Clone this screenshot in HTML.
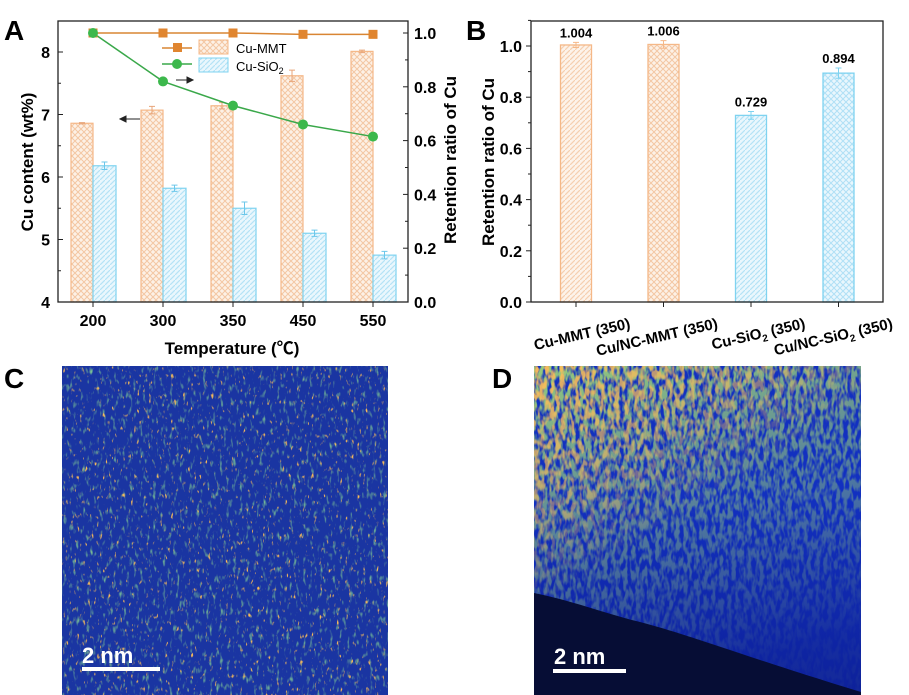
<!DOCTYPE html>
<html><head><meta charset="utf-8"><style>
body{margin:0;background:#fff;width:909px;height:695px;overflow:hidden;font-family:"Liberation Sans","Noto Sans CJK SC",sans-serif}
svg{position:absolute;left:0;top:0}
text{font-family:"Liberation Sans","Noto Sans CJK SC",sans-serif}
</style></head><body>
<svg id="fig" width="909" height="695" viewBox="0 0 909 695">
<defs>
<pattern id="cross" width="6" height="6" patternUnits="userSpaceOnUse"><rect width="6" height="6" fill="#fdf1e6"/><path d="M0 0L6 6M6 0L0 6" stroke="#f3c7a3" stroke-width="1"/></pattern>
<pattern id="diagO" width="5" height="5" patternUnits="userSpaceOnUse"><rect width="5" height="5" fill="#fdf3ea"/><path d="M-1 6L6 -1" stroke="#f5cfb0" stroke-width="1.2"/></pattern>
<pattern id="diagB" width="5" height="5" patternUnits="userSpaceOnUse"><rect width="5" height="5" fill="#eaf7fd"/><path d="M-1 6L6 -1" stroke="#b5e3f6" stroke-width="1.2"/></pattern>
<pattern id="crossB" width="6" height="6" patternUnits="userSpaceOnUse"><rect width="6" height="6" fill="#e9f7fd"/><path d="M0 0L6 6M6 0L0 6" stroke="#b0e0f5" stroke-width="1"/></pattern>
<filter id="greenN" x="0" y="0" width="100%" height="100%"><feTurbulence type="fractalNoise" baseFrequency="0.3 0.12" numOctaves="2" seed="3"/><feColorMatrix type="matrix" values="0 0 0 0 0.2  0 0 0 0 0.55  0 0 0 0 0.3  0 0 0 3 -1.75"/></filter>
<filter id="orangeN" x="0" y="0" width="100%" height="100%"><feTurbulence type="fractalNoise" baseFrequency="0.35 0.15" numOctaves="2" seed="11"/><feColorMatrix type="matrix" values="0 0 0 0 0.95  0 0 0 0 0.5  0 0 0 0 0.1  0 0 0 6 -4.0"/></filter>
<filter id="greenD" x="0" y="0" width="100%" height="100%"><feTurbulence type="fractalNoise" baseFrequency="0.25 0.1" numOctaves="2" seed="5"/><feColorMatrix type="matrix" values="0 0 0 0 0.3  0 0 0 0 0.6  0 0 0 0 0.2  0 0 0 4 -1.5"/></filter>
<filter id="orangeD" x="0" y="0" width="100%" height="100%"><feTurbulence type="fractalNoise" baseFrequency="0.2 0.1" numOctaves="2" seed="9"/><feColorMatrix type="matrix" values="0 0 0 0 0.95  0 0 0 0 0.5  0 0 0 0 0.1  0 0 0 5 -2.2"/></filter>
<linearGradient id="fadeD" x1="0" y1="0" x2="0.3" y2="1"><stop offset="0" stop-color="#fff"/><stop offset="0.5" stop-color="#fff" stop-opacity="0.55"/><stop offset="1" stop-color="#fff" stop-opacity="0.05"/></linearGradient>
<linearGradient id="fadeO" x1="0" y1="0" x2="0.6" y2="1"><stop offset="0" stop-color="#fff"/><stop offset="0.35" stop-color="#fff" stop-opacity="0.5"/><stop offset="0.55" stop-color="#fff" stop-opacity="0"/></linearGradient>
<linearGradient id="darkBlue" x1="0" y1="0" x2="0" y2="1"><stop offset="0.4" stop-color="#0a1680" stop-opacity="0"/><stop offset="1" stop-color="#0a1680" stop-opacity="0.6"/></linearGradient>
<mask id="maskD"><rect x="534" y="366" width="327" height="329" fill="url(#fadeD)"/></mask>
<mask id="maskO"><rect x="534" y="366" width="327" height="329" fill="url(#fadeO)"/></mask>
</defs>
<g id="panelA"></g>
<g id="panelB"></g>

<g>
<text x="4" y="388" font-size="28" font-weight="bold">C</text>
<rect x="62" y="366" width="326" height="329" fill="#1a35a2"/>
<rect x="62" y="366" width="326" height="329" filter="url(#greenN)"/>
<rect x="62" y="366" width="326" height="329" filter="url(#orangeN)"/>
<rect x="82" y="667" width="78" height="4" fill="#fff"/>
<text x="82" y="663" font-size="22" font-weight="bold" fill="#fff">2 nm</text>
</g>
<g>
<text x="492" y="388" font-size="28" font-weight="bold">D</text>
<rect x="534" y="366" width="327" height="329" fill="#1230c0"/>
<rect x="534" y="366" width="327" height="329" fill="url(#darkBlue)"/>
<rect x="534" y="366" width="327" height="329" filter="url(#greenD)" mask="url(#maskD)"/>
<rect x="534" y="366" width="327" height="329" filter="url(#orangeD)" mask="url(#maskO)"/>
<path d="M534 593 C570 600 610 615 640 622 C690 635 740 655 861 692 L861 695 L534 695 Z" fill="#060d35"/>
<rect x="553" y="669" width="73" height="4" fill="#fff"/>
<text x="554" y="664" font-size="22" font-weight="bold" fill="#fff">2 nm</text>
</g>
</svg>
<script>
// Panel A data
const tempsA = ['200','300','350','450','550'];
const mmtContent = [6.86, 7.07, 7.14, 7.62, 8.01];
const mmtErr = [0.01, 0.06, 0.05, 0.09, 0.02];
const sioContent = [6.18, 5.82, 5.50, 5.10, 4.75];
const sioErr = [0.06, 0.05, 0.10, 0.05, 0.06];
const mmtRet = [1.0, 1.0, 1.0, 0.995, 0.995];
const sioRet = [1.0, 0.82, 0.73, 0.66, 0.615];
const leftTicks = [4,5,6,7,8];
const rightTicks = [0.0,0.2,0.4,0.6,0.8,1.0];
// Panel B data
const catsB = ['Cu-MMT (350)','Cu/NC-MMT (350)','Cu-SiO2 (350)','Cu/NC-SiO2 (350)'];
const retB = [1.004, 1.006, 0.729, 0.894];
const retBErr = [0.01, 0.015, 0.015, 0.02];
const labelsB = ['1.004','1.006','0.729','0.894'];
const ticksB = [0.0,0.2,0.4,0.6,0.8,1.0];

const NS='http://www.w3.org/2000/svg';
function mk(parent,tag,attrs,txt){const e=document.createElementNS(NS,tag);for(const k in attrs)e.setAttribute(k,attrs[k]);if(txt!==undefined)e.textContent=txt;parent.appendChild(e);return e;}

// ---- Panel A ----
const A=document.getElementById('panelA');
const ax0=58, ax1=408, ay0=302, ay1=21;
const yL=v=>302-(v-4)*62.5;
const yR=v=>302-v*269;
const xA=i=>93+i*70;
let e;
e=mk(A,'text',{x:4,y:40,'font-size':28,'font-weight':'bold'},'A');


tempsA.forEach((t,i)=>{
  const x=xA(i);
  e=mk(A,'rect',{x:x-22,y:yL(mmtContent[i]),width:22,height:ay0-yL(mmtContent[i]),fill:'url(#cross)',stroke:'#f5b888','stroke-width':1.2});
  
  
  e=mk(A,'rect',{x:x,y:yL(sioContent[i]),width:23,height:ay0-yL(sioContent[i]),fill:'url(#diagB)',stroke:'#7fd3f0','stroke-width':1.2});
  
  
  [[x-11,mmtContent[i],mmtErr[i],'#e8a57a'],[x+11.5,sioContent[i],sioErr[i],'#6cc7ea']].forEach(([cx,v,er,c])=>{
    const g=mk(A,'path',{d:`M${cx} ${yL(v+er)}V${yL(v-er)}M${cx-3} ${yL(v+er)}H${cx+3}M${cx-3} ${yL(v-er)}H${cx+3}`,stroke:c,fill:'none','stroke-width':1});
    
    
  });
});
e=mk(A,'polyline',{points:mmtRet.map((v,i)=>xA(i)+','+yR(v)).join(' '),fill:'none',stroke:'#d98533','stroke-width':1.5});


e=mk(A,'polyline',{points:sioRet.map((v,i)=>xA(i)+','+yR(v)).join(' '),fill:'none',stroke:'#3aa84a','stroke-width':1.5});


mmtRet.forEach((v,i)=>{e=mk(A,'rect',{x:xA(i)-4.5,y:yR(v)-4.5,width:9,height:9,fill:'#e0852f'});
  
  });
sioRet.forEach((v,i)=>{e=mk(A,'circle',{cx:xA(i),cy:yR(v),r:5,fill:'#3cb84c'});
  
  });
e=mk(A,'rect',{x:ax0,y:ay1,width:ax1-ax0,height:ay0-ay1,fill:'none',stroke:'#222','stroke-width':1.3});


leftTicks.forEach(v=>{mk(A,'line',{x1:ax0,x2:ax0+5,y1:yL(v),y2:yL(v),stroke:'#222'});
  if(v<8) mk(A,'line',{x1:ax0,x2:ax0+3,y1:yL(v+0.5),y2:yL(v+0.5),stroke:'#222'});
  e=mk(A,'text',{x:ax0-8,y:yL(v)+6,'font-size':16,'font-weight':'bold','text-anchor':'end'},String(v));
  
  });
rightTicks.forEach(v=>{mk(A,'line',{x1:ax1,x2:ax1-5,y1:yR(v),y2:yR(v),stroke:'#222'});
  if(v<1) mk(A,'line',{x1:ax1,x2:ax1-3,y1:yR(v+0.1),y2:yR(v+0.1),stroke:'#222'});
  e=mk(A,'text',{x:ax1+6,y:yR(v)+6,'font-size':16,'font-weight':'bold'},v.toFixed(1));
  
  });
tempsA.forEach((t,i)=>{mk(A,'line',{x1:xA(i),x2:xA(i),y1:ay0,y2:ay0+5,stroke:'#222'});
  e=mk(A,'text',{x:xA(i),y:326,'font-size':16,'font-weight':'bold','text-anchor':'middle'},t);
  
  });
e=mk(A,'text',{x:232,y:354,'font-size':17,'font-weight':'bold','text-anchor':'middle'},'Temperature (℃)');


e=mk(A,'text',{x:0,y:0,'font-size':17,'font-weight':'bold','text-anchor':'middle',transform:'translate(33,162) rotate(-90)'},'Cu content (wt%)');


e=mk(A,'text',{x:0,y:0,'font-size':17,'font-weight':'bold','text-anchor':'middle',transform:'translate(456,160) rotate(-90)'},'Retention ratio of Cu');


mk(A,'path',{d:'M140 119H120M120 119l6 -3v6z',stroke:'#222',fill:'#222'});
mk(A,'path',{d:'M176 80H193M193 80l-6 -3v6z',stroke:'#222',fill:'#222'});
const lg=mk(A,'g',{});


mk(lg,'line',{x1:162,x2:192,y1:48,y2:48,stroke:'#d98533','stroke-width':1.5});
mk(lg,'rect',{x:173,y:43,width:9,height:9,fill:'#e0852f'});
mk(lg,'rect',{x:199,y:40,width:29,height:14,fill:'url(#cross)',stroke:'#f5b888'});
mk(lg,'text',{x:236,y:53,'font-size':13},'Cu-MMT');
mk(lg,'line',{x1:162,x2:192,y1:64,y2:64,stroke:'#3aa84a','stroke-width':1.5});
mk(lg,'circle',{cx:177,cy:64,r:5,fill:'#3cb84c'});
mk(lg,'rect',{x:199,y:58,width:29,height:14,fill:'url(#diagB)',stroke:'#7fd3f0'});
const tt=mk(lg,'text',{x:236,y:71,'font-size':13},'Cu-SiO');
mk(tt,'tspan',{'font-size':9,dy:3},'2');

// ---- Panel B ----
const B=document.getElementById('panelB');
const bx0=531,bx1=883,by0=302,by1=21;
const yB=v=>302-v*256;
const xB=i=>576+i*87.5;
const fillsB=['url(#diagO)','url(#cross)','url(#diagB)','url(#crossB)'];
const strokesB=['#f5b888','#f5b888','#7fd3f0','#7fd3f0'];
e=mk(B,'text',{x:466,y:40,'font-size':28,'font-weight':'bold'},'B');


catsB.forEach((c,i)=>{
  const x=xB(i);
  e=mk(B,'rect',{x:x-15.5,y:yB(retB[i]),width:31,height:by0-yB(retB[i]),fill:fillsB[i],stroke:strokesB[i],'stroke-width':1.3});
  
  
  const er=retBErr[i],v=retB[i];
  e=mk(B,'path',{d:`M${x} ${yB(v+er)}V${yB(v-er)}M${x-3} ${yB(v+er)}H${x+3}M${x-3} ${yB(v-er)}H${x+3}`,stroke:strokesB[i],fill:'none'});
  
  
  e=mk(B,'text',{x:x,y:yB(v+er)-5,'font-size':13,'font-weight':'bold','text-anchor':'middle'},labelsB[i]);
  
  
  mk(B,'line',{x1:x,x2:x,y1:by0,y2:by0+5,stroke:'#222'});
  const parts=c.split('SiO2');
  const lt=mk(B,'text',{'font-size':15,'font-weight':'bold','text-anchor':'end',transform:`translate(${x+55},${by0+26}) rotate(-13)`});
  
  
  if(parts.length>1){mk(lt,'tspan',{},parts[0]+'SiO');mk(lt,'tspan',{'font-size':10,dy:4},'2');mk(lt,'tspan',{dy:-4},parts[1]);}
  else lt.textContent=c;
});
e=mk(B,'rect',{x:bx0,y:by1,width:bx1-bx0,height:by0-by1,fill:'none',stroke:'#222','stroke-width':1.3});


ticksB.forEach(v=>{mk(B,'line',{x1:bx0,x2:bx0-5,y1:yB(v),y2:yB(v),stroke:'#222'});
  mk(B,'line',{x1:bx0,x2:bx0-3,y1:yB(v+0.1),y2:yB(v+0.1),stroke:'#222'});
  e=mk(B,'text',{x:bx0-9,y:yB(v)+6,'font-size':16,'font-weight':'bold','text-anchor':'end'},v.toFixed(1));
  
  });
e=mk(B,'text',{'font-size':17,'font-weight':'bold','text-anchor':'middle',transform:'translate(494,162) rotate(-90)'},'Retention ratio of Cu');


</script>
</body></html>
